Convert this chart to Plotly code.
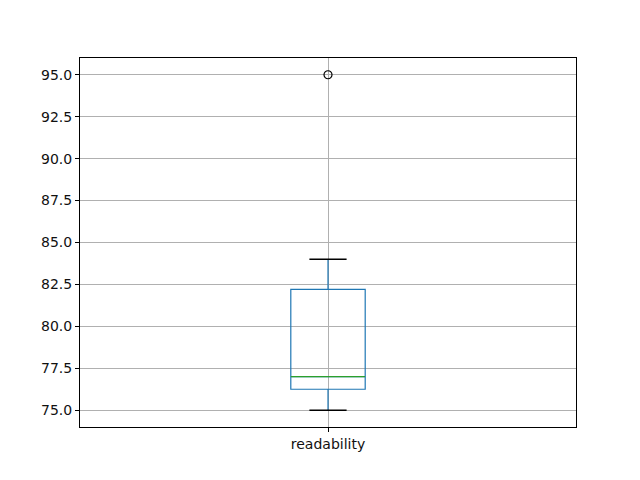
import plotly.graph_objects as go

# Summary statistics
categories = ["readability"]
positions = [1]
q1 = [76.25]
median = [77.0]
q3 = [82.2]
lower_whisker = [75.0]
upper_whisker = [84.0]
outliers = [95.0]

y_ticks = [75.0, 77.5, 80.0, 82.5, 85.0, 87.5, 90.0, 92.5, 95.0]

BOX_WIDTH = 0.15
CAP_WIDTH = BOX_WIDTH / 2

fig = go.Figure()

# box + whiskers
fig.add_trace(
    go.Box(
        x=positions,
        q1=q1,
        median=median,
        q3=q3,
        lowerfence=lower_whisker,
        upperfence=upper_whisker,
        width=BOX_WIDTH,
        whiskerwidth=0.0,
        boxpoints=False,
        fillcolor="rgba(0,0,0,0)",
        line=dict(color="#1f77b4", width=1.2),
        hoverinfo="skip",
        showlegend=False,
    )
)

# green median line drawn over the blue one
for pos, m in zip(positions, median):
    fig.add_trace(
        go.Scatter(
            x=[pos - BOX_WIDTH / 2, pos + BOX_WIDTH / 2],
            y=[m, m],
            mode="lines",
            line=dict(color="#2ca02c", width=1.3),
            hoverinfo="skip",
            showlegend=False,
        )
    )

# black whisker caps
for pos, lo, hi in zip(positions, lower_whisker, upper_whisker):
    for v in (lo, hi):
        fig.add_trace(
            go.Scatter(
                x=[pos - CAP_WIDTH / 2, pos + CAP_WIDTH / 2],
                y=[v, v],
                mode="lines",
                line=dict(color="black", width=1.3),
                hoverinfo="skip",
                showlegend=False,
            )
        )

# fliers
fig.add_trace(
    go.Scatter(
        x=[positions[0]] * len(outliers),
        y=outliers,
        mode="markers",
        marker=dict(symbol="circle-open", size=8, color="black", line=dict(width=1.2)),
        showlegend=False,
    )
)

axis_common = dict(
    showgrid=True,
    gridcolor="#b0b0b0",
    gridwidth=0.8,
    showline=True,
    linecolor="black",
    linewidth=1,
    mirror=True,
    ticks="outside",
    ticklen=4,
    tickcolor="black",
    zeroline=False,
    tickfont=dict(family="DejaVu Sans", size=14, color="#111111"),
)

# the page body adds an 8px offset, so margins are trimmed to land the
# plot area where the reference has it
fig.update_layout(
    width=640,
    height=480,
    margin=dict(l=72, r=72, t=50, b=61),
    plot_bgcolor="white",
    paper_bgcolor="white",
    xaxis=dict(
        range=[0.5, 1.5],
        tickvals=positions,
        ticktext=categories,
        **axis_common,
    ),
    yaxis=dict(
        range=[74, 96],
        tickvals=y_ticks,
        tickformat=".1f",
        **axis_common,
    ),
)

fig.write_html("out.html")
